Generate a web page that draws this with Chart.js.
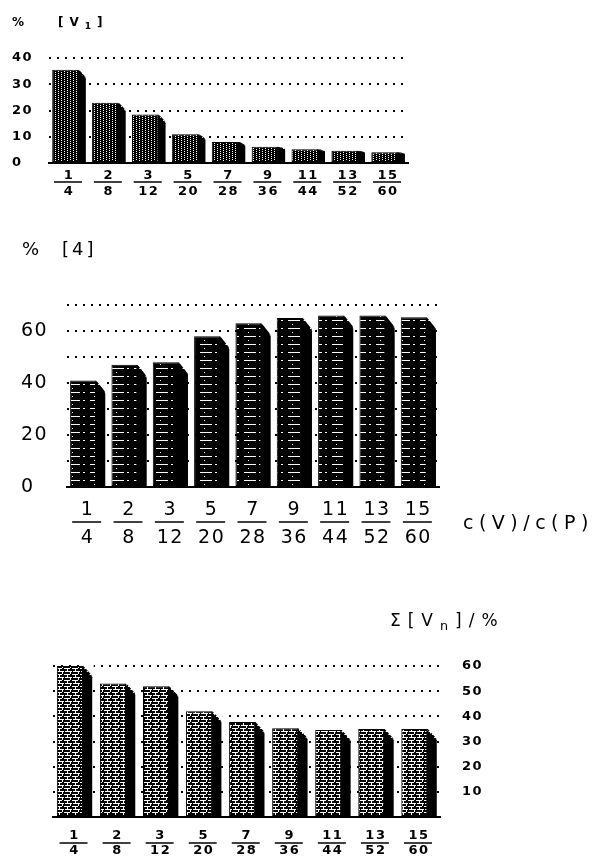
<!DOCTYPE html>
<html><head><meta charset="utf-8">
<script src="https://cdn.jsdelivr.net/npm/chart.js@4.4.1/dist/chart.umd.min.js"></script>
<style>
html,body{margin:0;padding:0;background:#fff;}
#wrap{position:relative;width:593px;height:856px;overflow:hidden;font-family:"DejaVu Sans",sans-serif;color:#000;}
canvas{position:absolute;left:0;}
.t{position:absolute;white-space:nowrap;line-height:1;}
.sub{position:relative;top:0.35em;font-size:0.75em;}
</style></head><body><div id="wrap">
<canvas id="c1" width="593" height="205" style="top:0px"></canvas>
<canvas id="c2" width="593" height="355" style="top:205px"></canvas>
<canvas id="c3" width="593" height="296" style="top:560px"></canvas>
<div class="t" style="left:12px;top:16px;font-size:12px;font-weight:bold;">%</div>
<div class="t" style="left:58px;top:16px;font-size:12px;font-weight:bold;letter-spacing:6px;">[V<span class="sub">1</span>]</div>
<div class="t" style="left:22px;top:240px;font-size:18px;">%</div>
<div class="t" style="left:62px;top:240px;font-size:18px;letter-spacing:3px;">[4]</div>
<div class="t" style="left:463px;top:513px;font-size:19px;letter-spacing:5.5px;">c(V)/c(P)</div>
<div class="t" style="left:390px;top:612px;font-size:17px;letter-spacing:7px;">Σ[V<span class="sub">n</span>]/%</div>
</div>
<script>
// ---- data ----
const numerators   = ['1','2','3','5','7','9','11','13','15'];
const denominators = ['4','8','12','20','28','36','44','52','60'];
const v1Values     = [35.5, 23, 18.5, 11, 8, 6.2, 5.2, 4.7, 4.1];
const p4Values     = [41, 47, 48, 58, 63, 65, 66, 66, 65.3];
const sumVnValues  = [60, 53, 52, 42, 37.7, 35.3, 34.6, 35, 35];
const v1TickLabels  = ['0','10','20','30','40'];
const p4TickLabels  = ['0','20','40','60'];
const sumTickLabels = ['10','20','30','40','50','60'];

const categories = numerators.map((n, i) => [n, denominators[i]]);

// ---- patterns ----
function makePattern(type) {
  const c = document.createElement('canvas');
  const g = c.getContext('2d');
  if (type === 'dots') {
    c.width = 6; c.height = 4;
    g.fillStyle = '#000'; g.fillRect(0, 0, 6, 4);
    g.fillStyle = '#fff';
    g.fillRect(1, 0, 1, 1); g.fillRect(1, 2, 1, 1);
    g.fillRect(4, 1, 1, 1); g.fillRect(4, 3, 1, 1);
  } else if (type === 'hdash') {
    c.width = 22; c.height = 8;
    g.fillStyle = '#000'; g.fillRect(0, 0, 22, 8);
    g.fillStyle = '#fff';
    g.fillRect(2, 3, 12, 1);
    g.fillRect(17, 3, 2, 1);
    g.fillRect(6, 7, 1, 1);
  } else {
    c.width = 8; c.height = 6;
    g.fillStyle = '#000'; g.fillRect(0, 0, 8, 6);
    g.fillStyle = '#fff';
    g.fillRect(0, 0, 6, 1);
    g.fillRect(1, 3, 7, 1);
    g.fillRect(3, 1, 1, 2);
    g.fillRect(6, 4, 1, 2);
  }
  return document.createElement('canvas').getContext('2d').createPattern(c, 'repeat');
}

// ---- plugins ----
const spacingPlugin = {
  id: 'spacing',
  beforeUpdate(chart, args, opts) { chart.ctx.letterSpacing = (opts.px || 0) + 'px'; },
  beforeDraw(chart, args, opts) { chart.ctx.letterSpacing = (opts.px || 0) + 'px'; }
};
const chamferPlugin = {
  id: 'chamfer',
  afterDatasetsDraw(chart, args, opts) {
    const ctx = chart.ctx;
    const meta = chart.getDatasetMeta(0);
    meta.data.forEach(bar => {
      const p = bar.getProps(['x', 'y', 'base', 'width'], true);
      const left = p.x - p.width / 2, right = p.x + p.width / 2;
      const fr = left + p.width * opts.front;
      const h = p.base - p.y;
      const d = Math.min((right - fr) * opts.slope, h * opts.maxFrac);
      ctx.save();
      ctx.fillStyle = '#fff';
      ctx.beginPath();
      ctx.moveTo(fr, p.y - 1.5); ctx.lineTo(right + 1.5, p.y - 1.5); ctx.lineTo(right + 1.5, p.y + d); ctx.closePath();
      ctx.fill();
      ctx.fillStyle = '#000';
      ctx.beginPath();
      ctx.moveTo(fr, p.y); ctx.lineTo(right, p.y + d); ctx.lineTo(right, p.base); ctx.lineTo(fr, p.base); ctx.closePath();
      ctx.fill();
      ctx.restore();
    });
  }
};
const fracPlugin = {
  id: 'frac',
  afterDraw(chart, args, opts) {
    const xs = chart.scales.x;
    const ctx = chart.ctx;
    ctx.save();
    ctx.strokeStyle = '#000';
    ctx.lineWidth = opts.lw;
    xs.ticks.forEach((t, i) => {
      const px = xs.getPixelForTick(i) - (opts.shift || 0);
      const y = xs.top + opts.dy;
      ctx.beginPath();
      ctx.moveTo(px - opts.half, y); ctx.lineTo(px + opts.half, y);
      ctx.stroke();
    });
    ctx.restore();
  }
};

function gridColor(ctx) { return ctx.tick && ctx.tick.value === 0 ? 'rgba(0,0,0,0)' : '#000'; }

function makeChart(id, cfg) {
  return new Chart(document.getElementById(id), {
    type: 'bar',
    data: {
      labels: categories,
      datasets: [{
        data: cfg.values,
        backgroundColor: makePattern(cfg.pattern),
        borderColor: '#000',
        borderWidth: 1,
        borderSkipped: false,
        barPercentage: cfg.barPct,
        categoryPercentage: 1
      }]
    },
    options: {
      responsive: false,
      animation: false,
      events: [],
      layout: { padding: cfg.padding },
      plugins: {
        legend: { display: false },
        title: { display: false },
        tooltip: { enabled: false },
        spacing: { px: cfg.spacing },
        chamfer: cfg.chamfer,
        frac: cfg.frac
      },
      scales: {
        x: {
          grid: { display: false, drawTicks: false },
          border: { display: true, color: '#000', width: 2 },
          ticks: {
            color: '#000', autoSkip: false, maxRotation: 0, minRotation: 0,
            padding: cfg.xPad,
            font: { family: 'DejaVu Sans', size: cfg.xFont, weight: cfg.weight, lineHeight: cfg.xLine + 'px' }
          },
          afterFit: s => { s.height = cfg.xHeight; }
        },
        y: {
          position: cfg.yPos,
          min: 0, max: cfg.yMax,
          grid: { display: true, drawTicks: false, color: gridColor, lineWidth: 2 },
          border: { display: false, dash: [2, 6] },
          ticks: {
            stepSize: 10, autoSkip: false, color: '#000',
            padding: cfg.yPad,
            crossAlign: cfg.yPos === 'left' ? 'far' : 'near',
            font: { family: 'DejaVu Sans', size: cfg.yFont, weight: cfg.weight },
            callback: v => (cfg.yLabels.indexOf(String(v)) >= 0 ? String(v) : '')
          },
          afterFit: s => { s.width = cfg.yWidth; }
        }
      }
    },
    plugins: [spacingPlugin, chamferPlugin, fracPlugin]
  });
}

makeChart('c1', {
  values: v1Values, pattern: 'dots', barPct: 0.84,
  padding: { left: 12, top: 58, right: 185, bottom: 0 },
  spacing: 1.5, weight: 'bold',
  xFont: 13, xLine: 16, xPad: 5, xHeight: 42,
  yPos: 'left', yMax: 40, yFont: 13, yPad: 0, yWidth: 37, yLabels: v1TickLabels,
  chamfer: { front: 0.76, slope: 1.1, maxFrac: 0.2 },
  frac: { lw: 1.5, dy: 19, half: 14, shift: 1 }
});
makeChart('c2', {
  values: p4Values, pattern: 'hdash', barPct: 0.85,
  padding: { left: 21, top: 100, right: 154, bottom: 0 },
  spacing: 1.5, weight: 'normal',
  xFont: 19, xLine: 28, xPad: 9, xHeight: 73,
  yPos: 'left', yMax: 70, yFont: 19, yPad: 0, yWidth: 46, yLabels: p4TickLabels,
  chamfer: { front: 0.71, slope: 1.3, maxFrac: 0.3 },
  frac: { lw: 1.5, dy: 35, half: 14.5, shift: 1 }
});
makeChart('c3', {
  values: sumVnValues, pattern: 'grid', barPct: 0.82,
  padding: { left: 53, top: 106, right: 0, bottom: 0 },
  spacing: 1.5, weight: 'bold',
  xFont: 13, xLine: 15, xPad: 11, xHeight: 39,
  yPos: 'right', yMax: 60, yFont: 13, yPad: 21.5, yWidth: 152.5, yLabels: sumTickLabels,
  chamfer: { front: 0.71, slope: 1.1, maxFrac: 0.3 },
  frac: { lw: 1.5, dy: 26, half: 14, shift: 1 }
});
</script>
</body></html>
